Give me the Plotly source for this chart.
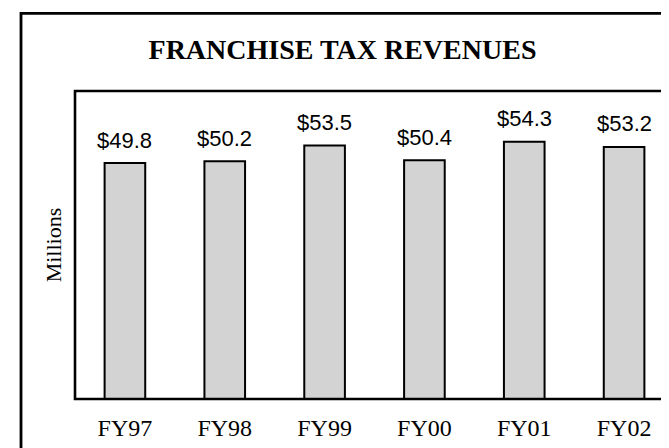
import plotly.graph_objects as go

categories = ["FY97", "FY98", "FY99", "FY00", "FY01", "FY02"]
revenues = [49.8, 50.2, 53.5, 50.4, 54.3, 53.2]
value_labels = ["$49.8", "$50.2", "$53.5", "$50.4", "$54.3", "$53.2"]
y_title = "Millions"
chart_title = "FRANCHISE TAX REVENUES"

W, H = 669, 448
L, R, T, B = 66.7, 3.3, 82.7, 57.3
pw, ph = W - L - R, H - T - B

fig = go.Figure()
fig.add_trace(go.Bar(
    x=categories, y=revenues,
    marker=dict(color="#d3d3d3", line=dict(color="black", width=2)),
    hoverinfo="skip",
))

annotations = []
for c, v, t in zip(categories, revenues, value_labels):
    annotations.append(dict(
        x=c, y=v, xref="x", yref="y", text=t, showarrow=False,
        yshift=23, yanchor="middle",
        font=dict(family="Liberation Sans, Arial", size=22, color="black"),
    ))
annotations.append(dict(
    x=(45 - L) / pw, y=0.5, xref="paper", yref="paper", text=y_title,
    showarrow=False, textangle=-90, xanchor="center", yanchor="middle",
    font=dict(family="Liberation Serif, Times New Roman", size=22, color="black"),
))

shapes = [
    dict(type="rect", xref="paper", yref="paper", x0=0, y0=0, x1=1, y1=1,
         line=dict(color="black", width=2.6), layer="above"),
    dict(type="rect", xref="paper", yref="paper",
         x0=(12.7 - L) / pw, y0=-1, x1=2, y1=(H - B - 5) / ph,
         line=dict(color="black", width=2.8), layer="above"),
]

fig.update_layout(
    template="none",
    width=W, height=H,
    margin=dict(l=L, r=R, t=T, b=B, pad=0, autoexpand=False),
    paper_bgcolor="white", plot_bgcolor="white",
    showlegend=False,
    bargap=0.593,
    title=dict(text="<b>" + chart_title + "</b>", x=0.5, xref="container",
               xanchor="center", y=1 - 41 / H, yref="container", yanchor="middle",
               font=dict(family="Liberation Serif, Times New Roman", size=28, color="black")),
    xaxis=dict(showgrid=False, showline=False, zeroline=False, ticks="", automargin=False,
               tickfont=dict(family="Liberation Serif, Times New Roman", size=24, color="black"),
               ticklabelstandoff=12),
    yaxis=dict(range=[0, 65], showgrid=False, showline=False, zeroline=False,
               showticklabels=False, ticks="", automargin=False),
    annotations=annotations,
    shapes=shapes,
)

fig.write_html("out.html")
